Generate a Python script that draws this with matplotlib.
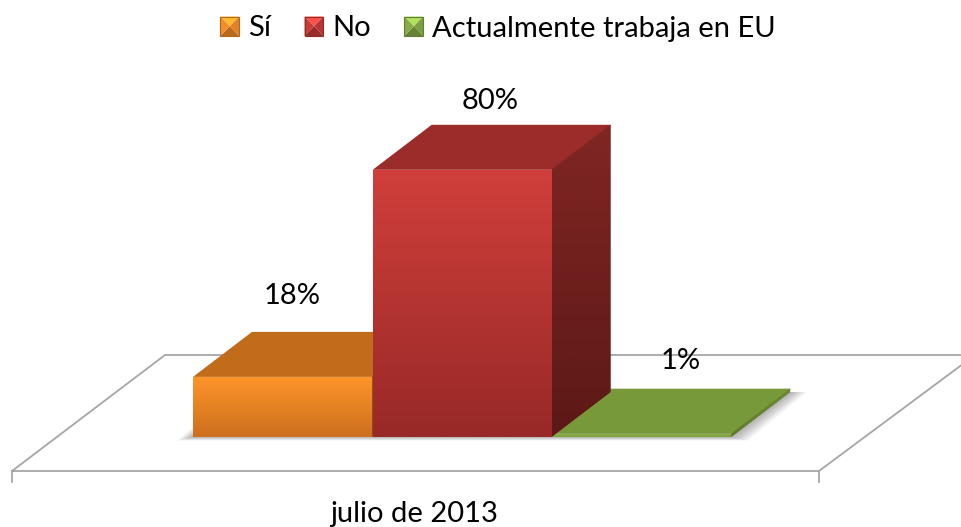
import numpy as np
import matplotlib
matplotlib.use('Agg')
import matplotlib.pyplot as plt
from matplotlib.patches import Polygon, Patch
from matplotlib.legend_handler import HandlerBase
from matplotlib.colors import to_rgb

plt.rcParams['font.family'] = ['Lato', 'DejaVu Sans']

# Data
categories = ['Sí', 'No', 'Actualmente trabaja en EU']
values = [18, 80, 1]
labels = ['18%', '80%', '1%']
period = 'julio de 2013'

# Colours for each bar
front_top = ['#FF9529', '#D03F3B', '#8DB54A']
front_bottom = ['#CC6F1E', '#982927', '#7F9F3C']
top_col = ['#C16C1B', '#9C2C2A', '#77993A']
side_top = ['#A85C17', '#802623', '#6A8A32']
side_bottom = ['#8C4C12', '#5C1917', '#5E7B2B']

W, H = 961, 527
PX_X = 179.7       # pixels per category
PX_Y = 3.34        # pixels per percent
X0, Y0 = 193, 437  # pixel position of first bar's base
DX = 59 / PX_X     # depth of the bars
DY = 45 / PX_Y
FS = 21


def px(x, y):
    # pixel position in the picture to data coordinates
    return (x - X0) / PX_X, (Y0 - y) / PX_Y


fig = plt.figure(figsize=(W / 100, H / 100), dpi=100)
ax = fig.add_axes([0, 0, 1, 1])
xlim = (px(0, 0)[0], px(W, 0)[0])
ylim = (px(0, H)[1], px(0, 0)[1])


def gradient(artist, c1, c2, extent, z):
    c1 = np.array(to_rgb(c1))
    c2 = np.array(to_rgb(c2))
    t = np.linspace(0, 1, 64)[:, None, None]
    img = c1[None, None, :] * (1 - t) + c2[None, None, :] * t
    im = ax.imshow(img, extent=extent, aspect='auto', zorder=z, interpolation='bilinear')
    im.set_clip_path(artist)


# floor of the chart
floor_col = '#A6A6A6'
fx = [px(12, 471), px(165, 355), px(975, 355), px(819, 471), px(12, 471)]
ax.plot([p[0] for p in fx], [p[1] for p in fx], color=floor_col, lw=1.3, zorder=1)
for tx in (12, 819):
    a, b = px(tx, 471), px(tx, 482)
    ax.plot([a[0], b[0]], [a[1], b[1]], color=floor_col, lw=1.3, zorder=1)

# soft shadow under the bars
n = len(values)
for s in np.linspace(16, 1, 9):
    sx = s / PX_X
    sy = s * 0.22 / PX_Y
    ax.add_patch(Polygon([(-sx, -sy), (DX - sx, DY), (n + DX + sx, DY), (n + sx, -sy)],
                         closed=True, fc='black', ec='none', alpha=0.035, zorder=2))

# bars, the tall one goes last because it hides its neighbours
order = np.argsort(values)
for k, i in enumerate(order):
    z = 3 + k * 0.1
    v = values[i]
    front = ax.bar(i, v, width=0.995, align='edge', color=front_top[i], zorder=z)[0]
    gradient(front, front_top[i], front_bottom[i], (i, i + 1, 0, v), z + 0.01)
    top = Polygon([(i, v), (i + DX, v + DY), (i + 1 + DX, v + DY), (i + 1, v)],
                  closed=True, fc=top_col[i], ec='none', zorder=z)
    ax.add_patch(top)
    side = Polygon([(i + 0.995, 0), (i + 0.995 + DX, DY), (i + 0.995 + DX, v + DY), (i + 0.995, v)],
                   closed=True, fc=side_top[i], ec='none', zorder=z)
    ax.add_patch(side)
    gradient(side, side_top[i], side_bottom[i], (i + 0.995, i + 0.995 + DX, 0, v + DY), z + 0.01)

# value labels, offset from the back edge of the bar top (in pixels up)
label_x = [0.551, 0.655, 0.715]
label_up = [36, 24, 28]
for i, v in enumerate(values):
    ax.text(i + label_x[i], v + DY + label_up[i] / PX_Y, labels[i], ha='center', va='center',
            fontsize=FS, color='black', zorder=6)

ax.text(px(414, 0)[0], px(0, 514)[1], period, ha='center', va='center', fontsize=FS, color='black')


# legend markers are small pyramids
class PyramidHandler(HandlerBase):
    def create_artists(self, legend, orig, xd, yd, width, height, fontsize, trans):
        c = np.array(to_rgb(orig.get_facecolor()))
        x0, y0 = -xd, -yd
        x1, y1 = x0 + width, y0 + height
        xm, ym = (x0 + x1) / 2, (y0 + y1) / 2
        faces = [([(x0, y1), (x1, y1), (xm, ym)], 1.25),
                 ([(x0, y0), (x1, y0), (xm, ym)], 0.72),
                 ([(x0, y0), (x0, y1), (xm, ym)], 0.95),
                 ([(x1, y0), (x1, y1), (xm, ym)], 0.88)]
        out = []
        for pts, f in faces:
            out.append(Polygon(pts, closed=True, fc=np.clip(c * f, 0, 1), ec='none', transform=trans))
        out.append(Polygon([(x0, y0), (x0, y1), (x1, y1), (x1, y0)], closed=True, fc='none',
                           ec=c * 0.7, lw=0.8, transform=trans))
        return out


handles = [Patch(facecolor=front_top[i], label=categories[i]) for i in range(n)]
ax.legend(handles=handles, loc='center', bbox_to_anchor=(498 / W, 1 - 28.5 / H), ncol=3, frameon=False,
          fontsize=FS, handler_map={Patch: PyramidHandler()}, handlelength=0.65, handleheight=0.65,
          handletextpad=0.3, columnspacing=1.15, borderpad=0)

ax.set_xlim(xlim)
ax.set_ylim(ylim)
ax.axis('off')

fig.savefig('out.png', dpi=100)
